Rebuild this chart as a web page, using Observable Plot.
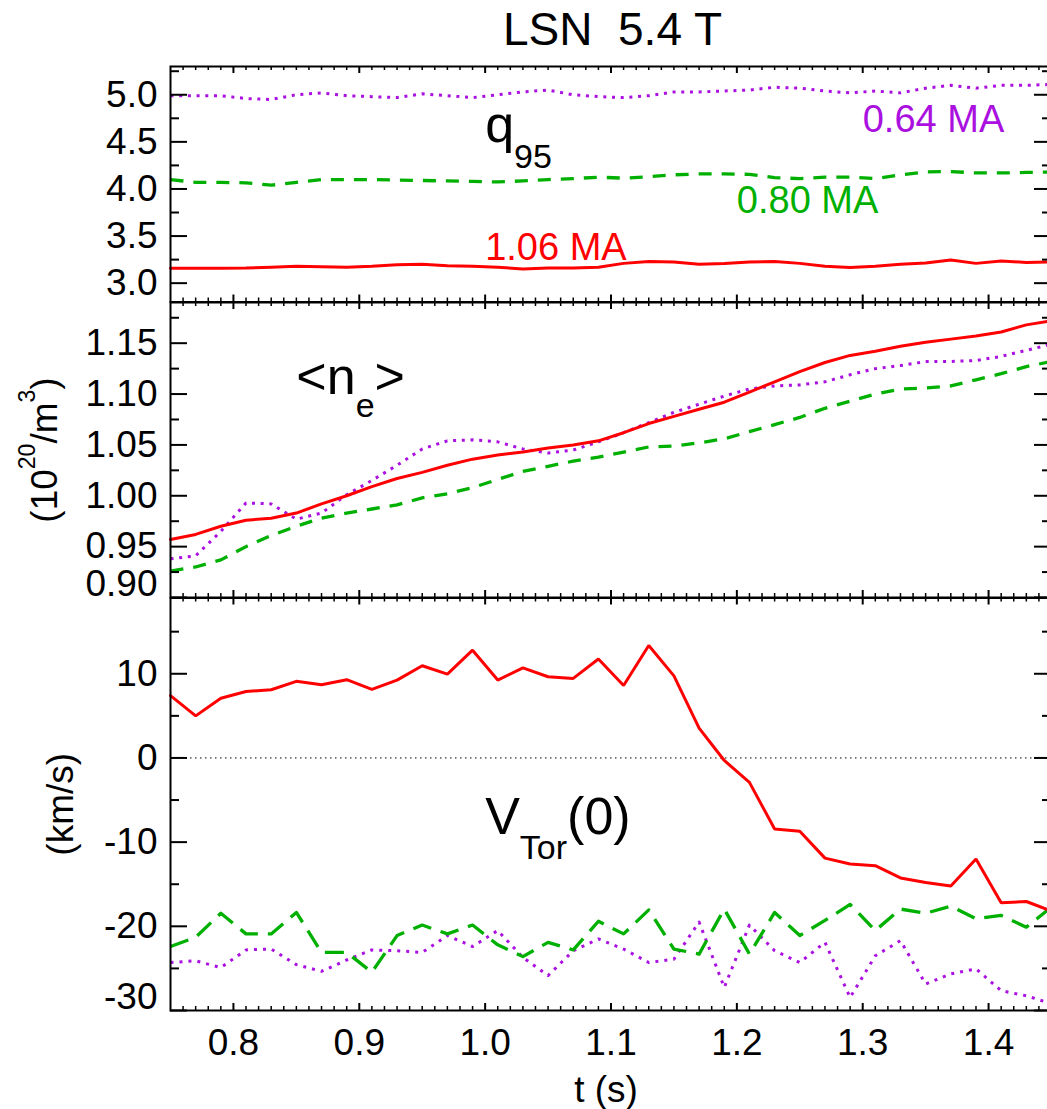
<!DOCTYPE html>
<html>
<head>
<meta charset="utf-8">
<script src="https://cdn.jsdelivr.net/npm/d3@7"></script>
<script src="https://cdn.jsdelivr.net/npm/@observablehq/plot@0.6"></script>
<style>
  html, body { margin: 0; padding: 0; background: #fff; overflow: hidden; }
  #chart { position: relative; width: 1047px; height: 1109px; overflow: hidden; background: #fff;
           font-family: "Liberation Sans", Arial, Helvetica, sans-serif; }
  #title { position: absolute; left: 170px; width: 885px; top: 6px; text-align: center;
           font-size: 46px; line-height: 46px; white-space: pre; color: #000; }
  .panel { position: absolute; left: 0; }
</style>
</head>
<body>
<div id="chart"><div id="title">LSN  5.4 T</div></div>
<script>
// Time base (s) shared by all three traces
const time = [0.75, 0.77, 0.79, 0.81, 0.83, 0.85, 0.87, 0.89, 0.91, 0.93, 0.95, 0.97,
              0.99, 1.01, 1.03, 1.05, 1.07, 1.09, 1.11, 1.13, 1.15, 1.17, 1.19, 1.21,
              1.23, 1.25, 1.27, 1.29, 1.31, 1.33, 1.35, 1.37, 1.39, 1.41, 1.43, 1.45];

// Plasma currents, one per discharge
const currents = ["1.06 MA", "0.80 MA", "0.64 MA"];

// q95
const q95_106 = [3.157, 3.157, 3.157, 3.16, 3.17, 3.18, 3.175, 3.17, 3.18, 3.195, 3.20, 3.185,
                 3.18, 3.17, 3.15, 3.16, 3.16, 3.17, 3.21, 3.23, 3.225, 3.20, 3.21, 3.225,
                 3.23, 3.21, 3.18, 3.165, 3.18, 3.20, 3.215, 3.245, 3.21, 3.235, 3.22, 3.225];
const q95_080 = [4.10, 4.07, 4.07, 4.065, 4.04, 4.07, 4.10, 4.10, 4.10, 4.095, 4.09, 4.085,
                 4.08, 4.075, 4.085, 4.10, 4.11, 4.125, 4.115, 4.13, 4.15, 4.16, 4.16, 4.155,
                 4.12, 4.11, 4.125, 4.125, 4.11, 4.15, 4.18, 4.185, 4.17, 4.17, 4.175, 4.18];
const q95_064 = [4.99, 4.99, 4.99, 4.96, 4.95, 5.00, 5.02, 4.99, 4.98, 4.97, 5.01, 4.99,
                 4.97, 5.00, 5.03, 5.05, 5.00, 4.98, 4.97, 4.99, 5.03, 5.03, 5.04, 5.05,
                 5.08, 5.07, 5.04, 5.02, 5.04, 5.02, 5.07, 5.10, 5.07, 5.10, 5.10, 5.11];

// Line-averaged density (10^20 m^-3)
const ne_106 = [0.957, 0.962, 0.970, 0.976, 0.978, 0.983, 0.992, 1.000, 1.009, 1.017, 1.023, 1.030,
                1.036, 1.040, 1.043, 1.047, 1.050, 1.054, 1.062, 1.071, 1.078, 1.085, 1.092, 1.102,
                1.112, 1.122, 1.131, 1.138, 1.142, 1.147, 1.151, 1.154, 1.157, 1.161, 1.168, 1.172];
const ne_080 = [0.926, 0.930, 0.937, 0.950, 0.961, 0.970, 0.978, 0.983, 0.987, 0.991, 0.998, 1.002,
                1.008, 1.016, 1.024, 1.029, 1.034, 1.038, 1.043, 1.048, 1.049, 1.052, 1.056, 1.063,
                1.070, 1.077, 1.086, 1.093, 1.100, 1.105, 1.106, 1.108, 1.114, 1.120, 1.127, 1.132];
const ne_064 = [0.938, 0.941, 0.965, 0.993, 0.992, 0.977, 0.983, 1.001, 1.015, 1.030, 1.046, 1.054,
                1.055, 1.053, 1.046, 1.042, 1.045, 1.053, 1.062, 1.072, 1.082, 1.090, 1.098, 1.105,
                1.108, 1.109, 1.112, 1.119, 1.125, 1.128, 1.132, 1.132, 1.133, 1.137, 1.143, 1.149];

// Central toroidal velocity (km/s)
const vtor_106 = [7.4, 5.0, 7.1, 7.9, 8.1, 9.1, 8.7, 9.3, 8.15, 9.25, 10.95, 9.95,
                  12.8, 9.25, 10.7, 9.65, 9.45, 11.75, 8.6, 13.35, 9.75, 3.55, -0.3, -2.9,
                  -8.45, -8.7, -11.9, -12.6, -12.8, -14.25, -14.8, -15.2, -12.0, -17.2, -17.05, -18.2];
const vtor_080 = [-22.4, -21.3, -18.45, -20.9, -20.9, -18.35, -23.1, -23.1, -25.45, -21.1, -19.85, -20.9,
                  -19.85, -22.2, -23.6, -21.9, -22.8, -19.4, -20.9, -18.05, -22.7, -23.3, -17.95, -23.3,
                  -18.35, -21.1, -19.3, -17.4, -20.5, -17.95, -18.45, -17.6, -19.1, -18.7, -20.1, -17.7];
const vtor_064 = [-24.3, -24.1, -24.9, -22.8, -22.7, -24.55, -25.35, -24.0, -22.8, -22.9, -23.1, -21.1,
                  -22.4, -20.5, -23.7, -25.85, -22.9, -21.5, -22.7, -24.3, -23.9, -19.5, -27.25, -19.85,
                  -22.9, -24.3, -21.9, -28.45, -23.5, -21.7, -26.85, -25.65, -25.05, -27.65, -28.25, -29.2];

// Tick values
const tTicks = [0.8, 0.9, 1.0, 1.1, 1.2, 1.3, 1.4];
const q95Ticks = [3.0, 3.5, 4.0, 4.5, 5.0];
const neTicks = [0.90, 0.95, 1.00, 1.05, 1.10, 1.15];
const vTicks = [-30, -20, -10, 0, 10];

// ---- layout & style ----
const RED = "#ff0000", GREEN = "#00b000", PURPLE = "#aa10e0";
const FONT = '"Liberation Sans", Arial, Helvetica, sans-serif';
const W = 1051, ML = 170, PW = W - ML;
const tMinor = d3.range(76, 146).filter(d => d % 10 !== 0).map(d => d / 100);

function frameMarks(plotH, yMajor, yMinor) {
  return [
    Plot.ruleY(yMajor, {insetRight: PW - 17, strokeWidth: 2}),
    Plot.ruleY(yMinor, {insetRight: PW - 9, strokeWidth: 2}),
    Plot.ruleY(yMajor, {insetLeft: PW - 17, strokeWidth: 2}),
    Plot.ruleY(yMinor, {insetLeft: PW - 9, strokeWidth: 2}),
    Plot.ruleX(tTicks, {insetTop: plotH - 7, strokeWidth: 2}),
    Plot.ruleX(tMinor, {insetTop: plotH - 4, strokeWidth: 1.5}),
    Plot.ruleX(tTicks, {insetBottom: plotH - 7, strokeWidth: 2}),
    Plot.ruleX(tMinor, {insetBottom: plotH - 4, strokeWidth: 1.5}),
    Plot.frame({stroke: "black", strokeWidth: 2})
  ];
}

function yLabels(ticks, fmt, liftBottom) {
  const opts = {tickSize: 0, tickPadding: 13, fontSize: 37, tickFormat: fmt, label: null};
  if (!liftBottom) return [Plot.axisY({...opts, ticks})];
  // the lowest label sits just above the panel's bottom edge
  return [
    Plot.axisY({...opts, ticks: ticks.slice(1)}),
    Plot.axisY({...opts, ticks: ticks.slice(0, 1), dy: -13})
  ];
}

function traces(series, dashes) {
  const [s106, s080, s064] = series;
  return [
    Plot.line(time, {x: time, y: s064, stroke: PURPLE, strokeWidth: 3, strokeDasharray: dashes.dot, strokeLinecap: "butt"}),
    Plot.line(time, {x: time, y: s080, stroke: GREEN, strokeWidth: 3.3, strokeDasharray: dashes.dash, strokeLinecap: "butt"}),
    Plot.line(time, {x: time, y: s106, stroke: RED, strokeWidth: 3, strokeLinejoin: "miter"})
  ];
}

// Rebuild a plain text label into tspans with sub/superscripts
function richText(svg, plain, parts) {
  const text = d3.select(svg).selectAll("text").filter(function() { return this.textContent === plain; });
  text.text(null);
  let shift = 0;
  for (const p of parts) {
    const ts = text.append("tspan").text(p.text);
    const s = p.shift || 0;
    if (s !== shift) ts.attr("dy", s - shift);
    shift = s;
    if (p.size) ts.attr("font-size", p.size);
  }
}

function mount(svg, top) {
  svg.classList.add("panel");
  svg.style.top = top + "px";
  document.getElementById("chart").appendChild(svg);
}

const baseStyle = {background: "transparent", color: "black", fontFamily: FONT, overflow: "hidden", maxWidth: "none"};

// ---- q95 panel ----
{
  const height = 260, marginTop = 16, marginBottom = 8.5;
  const svg = Plot.plot({
    width: W, height, marginLeft: ML, marginRight: 0, marginTop, marginBottom,
    x: {domain: [0.75, 1.45], axis: null},
    y: {domain: [2.8, 5.3]},
    style: baseStyle,
    marks: [
      ...traces([q95_106, q95_080, q95_064], {dot: "3,5.7", dash: "13,10"}),
      ...frameMarks(height - marginTop - marginBottom, q95Ticks, [3.25, 3.75, 4.25, 4.75, 5.25]),
      ...yLabels(q95Ticks, d3.format(".1f"), false),
      Plot.text([currents[0]], {x: 1.0, y: 3.25, text: d => d, fill: RED, fontSize: 38, textAnchor: "start", lineAnchor: "bottom"}),
      Plot.text([currents[1]], {x: 1.2, y: 3.75, text: d => d, fill: GREEN, fontSize: 38, textAnchor: "start", lineAnchor: "bottom"}),
      Plot.text([currents[2]], {x: 1.3, y: 4.6, text: d => d, fill: PURPLE, fontSize: 38, textAnchor: "start", lineAnchor: "bottom"}),
      Plot.text(["q95"], {x: 1.0, y: 4.5, text: d => d, fontSize: 52, textAnchor: "start", lineAnchor: "bottom"})
    ]
  });
  richText(svg, "q95", [{text: "q"}, {text: "95", size: 34, shift: 26}]);
  mount(svg, 50);
}

// ---- density panel ----
{
  const height = 320, marginTop = 12, marginBottom = 13;
  const svg = Plot.plot({
    width: W, height, marginLeft: ML, marginRight: 0, marginTop, marginBottom,
    x: {domain: [0.75, 1.45], axis: null},
    y: {domain: [0.90, 1.19]},
    style: baseStyle,
    marks: [
      ...traces([ne_106, ne_080, ne_064], {dot: "3,5.7", dash: "13,10"}),
      ...frameMarks(height - marginTop - marginBottom, neTicks, [0.925, 0.975, 1.025, 1.075, 1.125, 1.175]),
      ...yLabels(neTicks, d3.format(".2f"), true),
      Plot.text(["<ne>"], {x: 0.85, y: 1.1, text: d => d, fontSize: 52, textAnchor: "start", lineAnchor: "bottom"}),
      Plot.text(["(1020/m3)"], {frameAnchor: "left", text: d => d, rotate: -90, dx: -125, fontSize: 37, textAnchor: "middle", lineAnchor: "middle"})
    ]
  });
  richText(svg, "<ne>", [{text: "<n"}, {text: "e", size: 34, shift: 23}, {text: ">", shift: 0}]);
  richText(svg, "(1020/m3)", [{text: "(10"}, {text: "20", size: 23, shift: -22}, {text: "/m", shift: 0}, {text: "3", size: 23, shift: -22}, {text: ")", shift: 0}]);
  mount(svg, 290);
}

// ---- toroidal velocity panel ----
{
  const height = 524, marginTop = 12.5, marginBottom = 99;
  const svg = Plot.plot({
    width: W, height, marginLeft: ML, marginRight: 0, marginTop, marginBottom,
    x: {domain: [0.75, 1.45]},
    y: {domain: [-30, 19]},
    style: baseStyle,
    marks: [
      Plot.ruleY([0], {stroke: "black", strokeWidth: 1, strokeDasharray: "1.5,3.5"}),
      ...traces([vtor_106, vtor_080, vtor_064], {dot: "3,6", dash: "19,10"}),
      ...frameMarks(height - marginTop - marginBottom, vTicks, [-25, -15, -5, 5, 15]),
      ...yLabels(vTicks, d => String(d), true),
      Plot.axisX({ticks: tTicks, tickSize: 0, tickPadding: 18, fontSize: 37, tickFormat: d3.format(".1f"), label: null}),
      Plot.text(["t (s)"], {frameAnchor: "bottom", text: d => d, dx: -5, dy: 80, fontSize: 37, lineAnchor: "middle"}),
      Plot.text(["(km/s)"], {frameAnchor: "left", text: d => d, rotate: -90, dx: -109, fontSize: 37, textAnchor: "middle", lineAnchor: "middle"}),
      Plot.text(["VTor(0)"], {x: 1.0, y: -9, text: d => d, fontSize: 52, textAnchor: "start", lineAnchor: "bottom"})
    ]
  });
  richText(svg, "VTor(0)", [{text: "V"}, {text: "Tor", size: 34, shift: 25}, {text: "(0)", shift: 0}]);
  mount(svg, 585);
}
</script>
</body>
</html>
